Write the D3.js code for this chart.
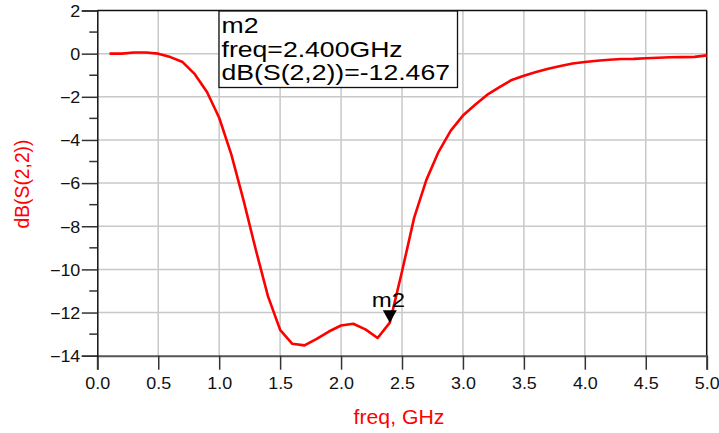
<!DOCTYPE html>
<html><head><meta charset="utf-8">
<script src="https://cdn.jsdelivr.net/npm/d3@7"></script>
<style>body{margin:0;background:#fff}svg{display:block}text{font-family:"Liberation Sans",Arial,sans-serif}</style>
</head><body>
<svg id="c" width="719" height="433"></svg>
<script>
const freq = [0.1,0.2,0.3,0.4,0.5,0.6,0.7,0.8,0.9,1.0,1.1,1.2,1.3,1.4,1.5,1.6,1.7,1.8,1.9,2.0,2.1,2.2,2.3,2.4,2.5,2.6,2.7,2.8,2.9,3.0,3.1,3.2,3.3,3.4,3.5,3.6,3.7,3.8,3.9,4.0,4.1,4.2,4.3,4.4,4.5,4.6,4.7,4.8,4.9,5.0];
const s22dB = [0.0,0.0,0.05,0.05,0.0,-0.16,-0.39,-0.95,-1.78,-2.97,-4.68,-6.8,-9.08,-11.24,-12.8,-13.45,-13.52,-13.22,-12.88,-12.6,-12.52,-12.78,-13.18,-12.467,-10.1,-7.6,-5.85,-4.55,-3.57,-2.87,-2.37,-1.9,-1.55,-1.22,-1.02,-0.85,-0.70,-0.57,-0.46,-0.39,-0.33,-0.28,-0.25,-0.24,-0.21,-0.19,-0.17,-0.16,-0.15,-0.08];
const xTicks = [0.0,0.5,1.0,1.5,2.0,2.5,3.0,3.5,4.0,4.5,5.0];
const yTicks = [2,0,-2,-4,-6,-8,-10,-12,-14];
const yMinor = [1,-1,-3,-5,-7,-9,-11,-13];
const markerName = "m2";
const markerFreq = 2.4;
const markerVal = -12.467;
const markerLines = ["m2","freq=2.400GHz","dB(S(2,2))=-12.467"];
const xLabel = "freq, GHz";
const yLabel = "dB(S(2,2))";

const svg = d3.select("#c");
const L=97.3, R=706.7, T=10.5, B=355.7;
const x = d3.scaleLinear().domain([0,5]).range([L,R]);
const y = d3.scaleLinear().domain([-14,2]).range([B,T]);

// grid
const g = svg.append("g");
g.selectAll("line.gx").data(xTicks.slice(1,-1)).join("line")
  .attr("x1",d=>x(d)).attr("x2",d=>x(d)).attr("y1",T).attr("y2",B)
  .attr("stroke","#c8c8c8").attr("stroke-width",1.5);
g.selectAll("line.gy").data(yTicks.slice(1,-1)).join("line")
  .attr("y1",d=>y(d)).attr("y2",d=>y(d)).attr("x1",L).attr("x2",R)
  .attr("stroke","#c8c8c8").attr("stroke-width",1.5);

// frame
svg.append("line").attr("x1",L).attr("x2",R).attr("y1",T).attr("y2",T).attr("stroke","#111").attr("stroke-width",1.5);
svg.append("line").attr("x1",R).attr("x2",R).attr("y1",T).attr("y2",B).attr("stroke","#111").attr("stroke-width",1.5);

// x axis
const xAxis = d3.axisBottom(x).tickValues(xTicks).tickSize(14).tickFormat(d3.format(".1f"));
const gx = svg.append("g").attr("transform",`translate(0,${B})`).call(xAxis);
gx.select(".domain").attr("stroke","#555").attr("stroke-width",2);
gx.selectAll(".tick line").attr("stroke","#333").attr("stroke-width",1.5);
gx.selectAll(".tick text").attr("font-size",16).attr("fill","#111").attr("dy",null).attr("y",33)
  .attr("transform",function(){return null;})
  .each(function(){ d3.select(this).attr("transform","scale(1.12,1)").attr("x",0); });

// y axis
const yAxis = d3.axisLeft(y).tickValues(yTicks).tickSize(15.5).tickFormat(d3.format("d"));
const gy = svg.append("g").attr("transform",`translate(${L},0)`).call(yAxis);
gy.select(".domain").attr("stroke","#111").attr("stroke-width",1.5);
gy.selectAll(".tick line").attr("stroke","#333").attr("stroke-width",1.5);
gy.selectAll(".tick text").attr("font-size",16).attr("fill","#111").attr("x",-17).attr("dy","0.36em")
  .attr("transform","scale(1.12,1)")
  .attr("x",-17/1.12 - 0);
gy.selectAll("line.minor").data(yMinor).join("line").attr("class","minor")
  .attr("x1",-8).attr("x2",0).attr("y1",d=>y(d)).attr("y2",d=>y(d))
  .attr("stroke","#333").attr("stroke-width",1.5);

// curve
const line = d3.line().x((d,i)=>x(freq[i])).y(d=>y(d));
svg.append("path").datum(s22dB).attr("d",line).attr("fill","none")
  .attr("stroke","#ff0000").attr("stroke-width",2.6).attr("stroke-linejoin","round");

// marker triangle
const mx = x(markerFreq), my = y(markerVal);
svg.append("path").attr("d",`M${mx-7},${my-12.5}L${mx+7},${my-12.5}L${mx},${my}Z`).attr("fill","#000");
svg.append("text").attr("transform",`translate(${mx-18},${my-16}) scale(1.2,1)`)
  .attr("font-size",20).attr("fill","#000").text(markerName);

// marker box
const box = svg.append("g");
box.append("rect").attr("x",219).attr("y",11).attr("width",238.5).attr("height",76.5)
  .attr("fill","#fff").attr("stroke","#111").attr("stroke-width",1.3);
box.selectAll("text").data(markerLines).join("text")
  .attr("transform",(d,i)=>`translate(221.5,${33.3+i*23.4}) scale(1.21,1)`)
  .attr("font-size",22).attr("fill","#000").text(d=>d);

// axis labels
svg.append("text").attr("transform",`translate(399,424) scale(1.09,1)`).attr("text-anchor","middle")
  .attr("font-size",19.5).attr("fill","#ff0000").text(xLabel);
svg.append("text").attr("transform",`translate(29,184) rotate(-90)`).attr("text-anchor","middle")
  .attr("font-size",19.3).attr("fill","#ff0000").text(yLabel);
</script>
</body></html>
